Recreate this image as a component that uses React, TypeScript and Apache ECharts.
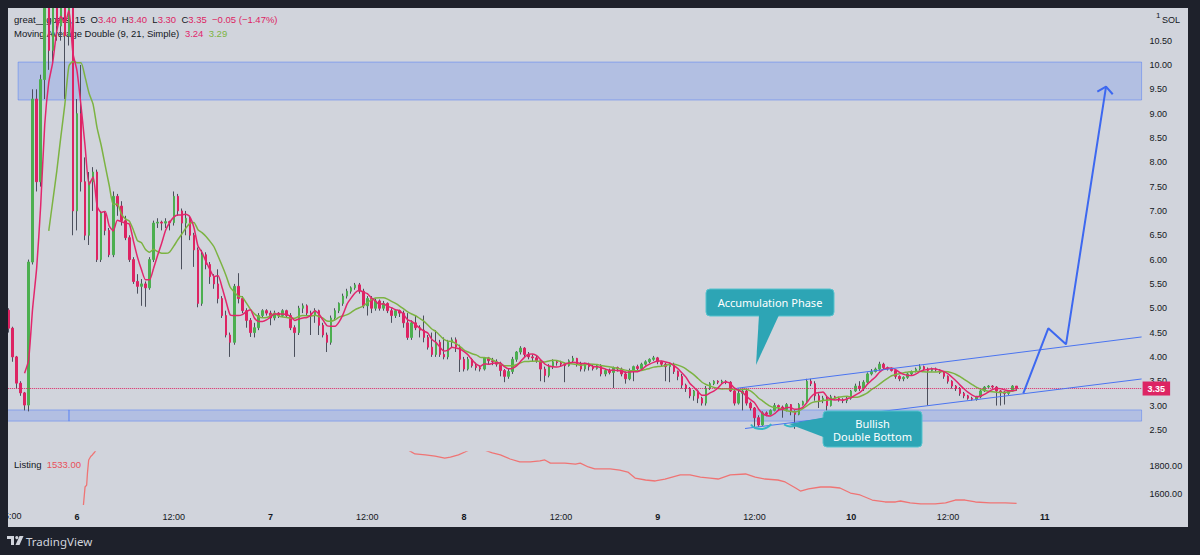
import React, { useEffect, useRef } from "react";
import * as echarts from "echarts";

// ---------- data ----------
const START_HOUR = -8.5; // hours relative to day 6 00:00
const BAR_HOURS = 0.5;
// [open, close, low, high]
const CANDLES: number[][] = [
  [4.96, 4.59, 4.5, 5.0], [4.59, 4.0, 3.9, 4.62], [4.0, 3.46, 3.35, 4.02], [3.46, 3.26, 3.2, 3.5],
  [3.26, 3.01, 2.9, 3.28], [3.01, 5.95, 2.88, 6.0], [5.95, 9.3, 5.9, 9.5], [9.3, 7.6, 7.4, 9.5],
  [7.6, 9.7, 7.5, 9.8], [9.7, 11.3, 9.3, 12.0], [11.3, 10.3, 9.9, 12.2], [10.3, 11.4, 10.0, 12.3],
  [11.4, 10.8, 10.5, 12.0], [10.8, 11.2, 10.5, 11.9], [11.2, 10.6, 9.3, 11.6], [10.6, 11.6, 10.4, 12.4],
  [11.6, 7.0, 6.5, 12.0], [7.0, 9.0, 6.6, 9.3], [9.0, 7.6, 7.4, 10.0], [7.6, 6.5, 6.4, 8.1],
  [6.5, 7.6, 6.3, 7.8], [7.6, 7.8, 7.0, 7.9], [7.8, 6.0, 5.95, 7.85], [6.0, 6.95, 5.95, 7.0],
  [6.95, 6.6, 6.5, 7.0], [6.6, 6.1, 6.05, 6.65], [6.1, 7.3, 6.05, 7.4], [7.3, 7.1, 6.9, 7.35],
  [7.1, 6.8, 6.7, 7.2], [6.8, 6.45, 6.4, 6.9], [6.45, 6.0, 5.95, 6.5], [6.0, 5.55, 5.5, 6.05],
  [5.55, 5.45, 5.3, 5.7], [5.45, 5.5, 5.05, 5.6], [5.5, 5.42, 5.03, 5.55], [5.42, 6.0, 5.38, 6.05],
  [6.0, 6.75, 5.95, 6.8], [6.75, 6.77, 6.65, 6.85], [6.77, 6.75, 6.6, 6.8], [6.75, 6.78, 6.65, 6.85],
  [6.78, 6.76, 6.6, 6.8], [6.76, 7.3, 6.7, 7.4], [7.3, 7.0, 6.9, 7.35], [7.0, 6.75, 5.8, 7.05],
  [6.75, 6.85, 6.5, 7.0], [6.85, 6.5, 6.4, 6.9], [6.5, 6.2, 5.85, 6.55], [6.2, 5.1, 5.02, 6.25],
  [5.1, 6.1, 5.05, 6.2], [6.1, 5.9, 5.8, 6.15], [5.9, 5.65, 5.5, 5.95], [5.65, 5.5, 5.4, 5.7],
  [5.5, 5.2, 5.1, 5.8], [5.2, 4.85, 4.8, 5.25], [4.85, 4.45, 4.4, 4.95], [4.45, 4.3, 4.0, 4.5],
  [4.3, 5.45, 4.25, 5.5], [5.45, 5.2, 5.1, 5.72], [5.2, 4.95, 4.9, 5.25], [4.95, 4.75, 4.6, 5.0],
  [4.75, 4.5, 4.41, 4.8], [4.5, 4.6, 4.4, 4.7], [4.6, 4.85, 4.55, 4.9], [4.85, 4.95, 4.8, 4.98],
  [4.95, 4.9, 4.85, 4.98], [4.9, 4.8, 4.65, 4.95], [4.8, 4.9, 4.75, 4.95], [4.9, 4.85, 4.8, 4.92],
  [4.85, 4.95, 4.82, 4.98], [4.95, 4.85, 4.8, 4.97], [4.85, 4.6, 4.55, 4.9], [4.6, 4.5, 4.0, 4.65],
  [4.5, 5.0, 4.45, 5.05], [5.0, 5.05, 4.9, 5.1], [5.05, 4.9, 4.85, 5.08], [4.9, 4.85, 4.45, 4.95],
  [4.85, 4.95, 4.7, 5.0], [4.95, 4.65, 4.45, 4.97], [4.65, 4.45, 4.4, 4.7], [4.45, 4.3, 4.1, 4.5],
  [4.3, 4.8, 4.25, 4.85], [4.8, 4.95, 4.75, 5.0], [4.95, 5.1, 4.9, 5.12], [5.1, 5.25, 5.05, 5.3],
  [5.25, 5.35, 5.2, 5.4], [5.35, 5.42, 5.3, 5.45], [5.42, 5.48, 5.38, 5.52], [5.48, 5.35, 5.3, 5.52],
  [5.35, 5.05, 5.0, 5.4], [5.05, 5.2, 4.85, 5.25], [5.2, 5.0, 4.9, 5.25], [5.0, 5.15, 4.95, 5.2],
  [5.15, 5.0, 4.95, 5.18], [5.0, 5.1, 4.95, 5.15], [5.1, 4.95, 4.9, 5.12], [4.95, 4.85, 4.7, 5.0],
  [4.85, 4.95, 4.8, 4.98], [4.95, 4.9, 4.82, 4.97], [4.9, 4.7, 4.6, 4.95], [4.7, 4.4, 4.35, 4.9],
  [4.4, 4.7, 4.35, 4.75], [4.7, 4.6, 4.55, 4.85], [4.6, 4.55, 4.4, 4.65], [4.55, 4.4, 4.3, 4.85],
  [4.4, 4.2, 4.15, 4.45], [4.2, 4.05, 4.0, 4.5], [4.05, 4.3, 4.0, 4.55], [4.3, 4.05, 4.0, 4.35],
  [4.05, 4.0, 3.95, 4.4], [4.0, 4.3, 3.95, 4.35], [4.3, 4.35, 4.2, 4.4], [4.35, 4.2, 4.1, 4.4],
  [4.2, 3.95, 3.69, 4.25], [3.95, 3.75, 3.7, 4.0], [3.75, 3.95, 3.72, 4.0], [3.95, 3.82, 3.78, 3.98],
  [3.82, 3.78, 3.72, 3.88], [3.78, 3.75, 3.7, 3.82], [3.75, 3.98, 3.72, 4.0], [3.98, 3.92, 3.85, 4.0],
  [3.92, 3.9, 3.83, 3.98], [3.9, 3.85, 3.8, 3.95], [3.85, 3.72, 3.6, 3.9], [3.72, 3.6, 3.48, 3.75],
  [3.6, 3.7, 3.55, 3.75], [3.7, 3.95, 3.65, 4.0], [3.95, 4.1, 3.9, 4.12], [4.1, 4.18, 4.05, 4.22],
  [4.18, 4.05, 4.0, 4.2], [4.05, 4.0, 3.95, 4.1], [4.0, 3.98, 3.9, 4.05], [3.98, 3.92, 3.88, 4.02],
  [3.92, 3.75, 3.5, 3.95], [3.75, 3.62, 3.48, 3.8], [3.62, 3.8, 3.58, 3.85], [3.8, 3.9, 3.75, 3.95],
  [3.9, 3.88, 3.82, 3.93], [3.88, 3.85, 3.8, 3.92], [3.85, 3.82, 3.48, 3.88], [3.82, 3.92, 3.8, 3.95],
  [3.92, 3.97, 3.88, 4.02], [3.97, 3.85, 3.8, 3.98], [3.85, 3.75, 3.7, 3.9], [3.75, 3.85, 3.7, 3.88],
  [3.85, 3.8, 3.72, 3.88], [3.8, 3.76, 3.72, 3.84], [3.76, 3.82, 3.74, 3.85], [3.82, 3.65, 3.6, 3.85],
  [3.65, 3.72, 3.6, 3.75], [3.72, 3.68, 3.64, 3.76], [3.68, 3.78, 3.36, 3.8], [3.78, 3.75, 3.7, 3.8],
  [3.75, 3.65, 3.6, 3.78], [3.65, 3.55, 3.45, 3.7], [3.55, 3.72, 3.52, 3.76], [3.72, 3.8, 3.5, 3.82],
  [3.8, 3.76, 3.7, 3.84], [3.76, 3.85, 3.74, 3.88], [3.85, 3.9, 3.82, 3.93], [3.9, 3.95, 3.87, 3.97],
  [3.95, 3.98, 3.92, 4.02], [3.98, 3.9, 3.85, 4.0], [3.9, 3.85, 3.8, 3.92], [3.85, 3.8, 3.5, 3.88],
  [3.8, 3.85, 3.48, 3.88], [3.85, 3.7, 3.65, 3.88], [3.7, 3.6, 3.52, 3.72], [3.6, 3.42, 3.35, 3.65],
  [3.42, 3.35, 3.28, 3.45], [3.35, 3.2, 3.15, 3.38], [3.2, 3.3, 3.1, 3.32], [3.3, 3.15, 3.05, 3.33],
  [3.15, 3.05, 3.0, 3.18], [3.05, 3.35, 3.0, 3.4], [3.35, 3.45, 3.32, 3.48], [3.45, 3.5, 3.42, 3.52],
  [3.5, 3.48, 3.44, 3.52], [3.48, 3.5, 3.45, 3.53], [3.5, 3.48, 3.44, 3.52], [3.48, 3.3, 3.28, 3.5],
  [3.3, 3.05, 3.0, 3.35], [3.05, 3.25, 3.02, 3.3], [3.25, 3.3, 2.9, 3.32], [3.3, 3.05, 3.0, 3.32],
  [3.05, 2.95, 2.9, 3.08], [2.95, 2.75, 2.56, 2.97], [2.75, 2.6, 2.56, 2.8], [2.6, 2.85, 2.58, 2.88],
  [2.85, 2.82, 2.78, 2.88], [2.82, 2.9, 2.8, 2.92], [2.9, 3.0, 2.88, 3.05], [3.0, 2.97, 2.9, 3.02],
  [2.97, 2.92, 2.75, 3.0], [2.92, 3.02, 2.88, 3.05], [3.02, 2.88, 2.8, 3.03], [2.88, 2.82, 2.52, 2.9],
  [2.82, 3.02, 2.8, 3.05], [3.02, 3.08, 3.0, 3.1], [3.08, 3.5, 3.06, 3.55], [3.5, 3.45, 3.4, 3.55],
  [3.45, 3.2, 3.1, 3.5], [3.2, 3.1, 2.95, 3.25], [3.1, 3.15, 3.05, 3.2], [3.15, 3.0, 2.9, 3.2],
  [3.0, 3.18, 2.98, 3.22], [3.18, 3.15, 3.12, 3.2], [3.15, 3.12, 3.08, 3.18], [3.12, 3.1, 3.05, 3.15],
  [3.1, 3.15, 3.05, 3.18], [3.15, 3.3, 3.12, 3.32], [3.3, 3.4, 3.28, 3.45], [3.4, 3.35, 3.3, 3.5],
  [3.35, 3.48, 3.3, 3.52], [3.48, 3.65, 3.45, 3.68], [3.65, 3.7, 3.62, 3.75], [3.7, 3.75, 3.68, 3.78],
  [3.75, 3.85, 3.72, 3.9], [3.85, 3.78, 3.75, 3.88], [3.78, 3.75, 3.72, 3.8], [3.75, 3.72, 3.7, 3.78],
  [3.72, 3.6, 3.55, 3.74], [3.6, 3.55, 3.5, 3.62], [3.55, 3.58, 3.5, 3.6], [3.58, 3.65, 3.55, 3.68],
  [3.65, 3.7, 3.62, 3.72], [3.7, 3.75, 3.68, 3.78], [3.75, 3.8, 3.72, 3.85], [3.8, 3.75, 3.72, 3.82],
  [3.75, 3.72, 3.0, 3.78], [3.72, 3.75, 3.7, 3.78], [3.75, 3.73, 3.7, 3.78], [3.73, 3.68, 3.65, 3.75],
  [3.68, 3.6, 3.55, 3.7], [3.6, 3.5, 3.45, 3.62], [3.5, 3.4, 3.35, 3.52], [3.4, 3.35, 3.3, 3.42],
  [3.35, 3.25, 3.2, 3.38], [3.25, 3.2, 3.15, 3.28], [3.2, 3.15, 3.12, 3.22], [3.15, 3.13, 3.1, 3.18],
  [3.13, 3.18, 3.1, 3.2], [3.18, 3.3, 3.15, 3.32], [3.3, 3.38, 3.28, 3.4], [3.38, 3.4, 3.35, 3.42],
  [3.4, 3.38, 3.35, 3.42], [3.38, 3.3, 3.0, 3.4], [3.3, 3.28, 3.0, 3.32], [3.28, 3.25, 3.02, 3.3],
  [3.25, 3.3, 3.22, 3.32], [3.3, 3.4, 3.28, 3.42], [3.4, 3.35, 3.3, 3.4],
];
const MA_FAST = 5; // 9 x 15m ≈ 4.5 x 30m
const MA_SLOW = 11; // 21 x 15m ≈ 10.5 x 30m
const LAST_PRICE = 3.35;

const LISTING_HOURS = [0.8, 1.0, 1.2, 1.3, 1.45, 1.7, 1.9, 2.1, 3, 6, 12, 20, 28, 36, 40, 41.2, 41.9, 43.2, 44.4, 45.6, 46.3, 47.3, 48.1, 49, 50.5, 51.5, 52.5, 53.7, 54.9, 56.2, 57.4, 58.0, 58.7, 60.5, 61.8, 62.4, 63.4, 64.2, 66.1, 67.3, 68.3, 69.2, 70.5, 71.7, 72.9, 74.8, 76.0, 77.3, 78.5, 79.5, 81.0, 82.9, 84.1, 85.3, 86.9, 87.8, 89.1, 89.7, 90.7, 92.2, 93.4, 94.6, 95.9, 97.1, 98.6, 100.2, 101.5, 102.1, 103.3, 104.6, 106.4, 107.7, 108.9, 110.1, 111.4, 113.2, 115.1, 116.5];
const LISTING_VALUES = [1521, 1650, 1664, 1750, 1843, 1868, 1879, 1893, 1960, 2050, 2150, 2200, 2150, 2080, 1980, 1910, 1886, 1879, 1871, 1857, 1864, 1879, 1900, 1925, 1915, 1893, 1879, 1850, 1829, 1829, 1836, 1843, 1821, 1821, 1814, 1821, 1793, 1779, 1779, 1771, 1757, 1714, 1700, 1693, 1707, 1736, 1736, 1721, 1714, 1707, 1736, 1743, 1721, 1707, 1700, 1686, 1643, 1621, 1636, 1650, 1650, 1643, 1607, 1593, 1557, 1543, 1543, 1550, 1536, 1529, 1529, 1536, 1557, 1557, 1543, 1536, 1536, 1533];
const LISTING_TICKS = [1600, 1800];

// drawings: [hour, price]
const CHANNEL_UPPER = [[81.8, 3.355], [132, 4.41]];
const CHANNEL_LOWER = [[82.83, 2.528], [132, 3.546]];
const FORECAST = [[117.33, 3.252], [120.43, 4.588], [122.63, 4.259], [127.59, 9.554]];
const ARROW_HEAD = [[126.51, 9.451], [127.59, 9.554], [128.42, 9.398]];
const CUP_1 = [[83.57, 2.61], [84.07, 2.54], [84.94, 2.52], [85.68, 2.56], [86.06, 2.62]];
const CUP_2 = [[87.67, 2.61], [88.41, 2.57], [89.28, 2.6]];
const ZONE_TOP = [-7.3, 10.06, 9.28];
const ZONE_BOTTOM = [-0.99, 2.91, 2.68];

const X_TICKS_START = -12;
const X_TICKS_END = 132;

// ---------- style ----------
const FONT = "'Liberation Sans', Arial, sans-serif";
const FONT2 = "'Noto Sans', 'Open Sans', sans-serif";
const GREEN = "#4caf50";
const RED = "#dd2463";
const WICK = "#4b4f5c";
const PINK = "#e2266c";
const LIME = "#7cb342";
const BLUE = "#4a74f0";
const ARROW = "#3d68f0";
const TEAL = "#2da5b5";
const TEAL_EDGE = "#55c3ce";
const LISTING_RED = "#ef7474";
const TEXT = "#131722";
const PANEL = "#d1d4dc";
const FRAME = "#1e212b";

const hourAt = (i: number) => START_HOUR + i * BAR_HOURS;

function sma(n: number) {
  const closes = CANDLES.map((c) => c[1]);
  const out: number[][] = [];
  for (let i = n - 1; i < closes.length; i++) {
    let s = 0;
    for (let j = i - n + 1; j <= i; j++) s += closes[j];
    out.push([hourAt(i), s / n]);
  }
  return out;
}

function buildOption() {
  const wickData = CANDLES.map((c, i) => [hourAt(i), c[0], c[1], c[2], c[3]]);
  const bodyData = CANDLES.map((c, i) => [hourAt(i), c[0], c[1], Math.min(c[0], c[1]), Math.max(c[0], c[1])]);
  const lineBase = { type: "line", xAxisIndex: 0, yAxisIndex: 0, showSymbol: false, symbol: "none", silent: true };
  const zoneStyle = { color: "rgba(41,98,255,0.18)", borderColor: "rgba(41,98,255,0.36)", borderWidth: 1 };

  return {
    animation: false,
    backgroundColor: PANEL,
    grid: [
      { left: -19.8, right: 58.4, top: -8, height: 462.2, outerBoundsMode: "none" },
      { left: -19.8, right: 58.4, top: 452, height: 56, outerBoundsMode: "none" },
    ],
    xAxis: [
      { type: "value", gridIndex: 0, min: X_TICKS_START, max: X_TICKS_END, interval: 12, show: false },
      {
        type: "value", gridIndex: 1, min: X_TICKS_START, max: X_TICKS_END, interval: 12,
        axisLine: { show: false }, axisTick: { show: false }, splitLine: { show: false },
        axisLabel: {
          margin: 4, fontSize: 9, color: TEXT, fontFamily: FONT, showMaxLabel: false, showMinLabel: false,
          formatter: (v: number) => {
            if (v < 0) return "";
            const hh = ((v % 24) + 24) % 24;
            if (Math.abs(hh) < 1e-6) return `{b|${6 + Math.round(v / 24)}}`;
            return "12:00";
          },
          rich: { b: { fontWeight: "bold", fontSize: 9, color: TEXT, fontFamily: FONT } },
        },
      },
    ],
    yAxis: [
      {
        type: "value", gridIndex: 0, position: "right", min: 2, max: 11.5, interval: 0.5,
        axisLine: { show: false }, axisTick: { show: false }, splitLine: { show: false },
        axisLabel: {
          margin: 8, fontSize: 9, color: TEXT, fontFamily: FONT,
          formatter: (v: number) => (v > 10.75 || v < 2.25 ? "" : v.toFixed(2)),
        },
      },
      {
        type: "value", gridIndex: 1, position: "right", min: 1500, max: 1900, interval: 100,
        axisLine: { show: false }, axisTick: { show: false }, splitLine: { show: false },
        axisLabel: {
          margin: 8, fontSize: 9, color: TEXT, fontFamily: FONT, showMinLabel: false, showMaxLabel: false,
          formatter: (v: number) => (LISTING_TICKS.indexOf(Math.round(v)) >= 0 ? v.toFixed(2) : ""),
        },
      },
    ],
    series: [
      {
        type: "candlestick", name: "wicks", xAxisIndex: 0, yAxisIndex: 0, barWidth: 1, z: 2, silent: true,
        encode: { x: 0, y: [1, 2, 3, 4] },
        itemStyle: { color: WICK, color0: WICK, borderColor: WICK, borderColor0: WICK, borderColorDoji: WICK, borderWidth: 1 },
        data: wickData,
      },
      {
        type: "candlestick", name: "bodies", xAxisIndex: 0, yAxisIndex: 0, barWidth: 2, z: 3, silent: true,
        encode: { x: 0, y: [1, 2, 3, 4] },
        itemStyle: { color: GREEN, color0: RED, borderColor: GREEN, borderColor0: RED, borderColorDoji: GREEN, borderWidth: 1 },
        data: bodyData,
        markLine: {
          silent: true, symbol: ["none", "none"], animation: false,
          data: [{ yAxis: LAST_PRICE }],
          lineStyle: { color: RED, type: "dotted", width: 1 },
          label: {
            show: true, position: "end", distance: 1, formatter: LAST_PRICE.toFixed(2),
            color: "#fff", backgroundColor: RED, padding: [3, 5, 2, 5], fontSize: 9, fontWeight: "bold", fontFamily: FONT,
          },
          emphasis: { disabled: true },
        },
      },
      { ...lineBase, name: "MA9", data: sma(MA_FAST), z: 5, smooth: 0.2, lineStyle: { color: PINK, width: 1.5 } },
      { ...lineBase, name: "MA21", data: sma(MA_SLOW), z: 4, smooth: 0.2, lineStyle: { color: LIME, width: 1.5 } },
      {
        ...lineBase, name: "upper", data: CHANNEL_UPPER, z: 6, lineStyle: { color: BLUE, width: 1 },
        markArea: {
          silent: true, itemStyle: zoneStyle,
          data: [
            [{ xAxis: ZONE_TOP[0], yAxis: ZONE_TOP[1] }, { xAxis: X_TICKS_END, yAxis: ZONE_TOP[2] }],
            [{ xAxis: X_TICKS_START, yAxis: ZONE_BOTTOM[1] }, { xAxis: ZONE_BOTTOM[0], yAxis: ZONE_BOTTOM[2] }],
            [{ xAxis: ZONE_BOTTOM[0], yAxis: ZONE_BOTTOM[1] }, { xAxis: X_TICKS_END, yAxis: ZONE_BOTTOM[2] }],
          ],
        },
      },
      { ...lineBase, name: "lower", data: CHANNEL_LOWER, z: 6, lineStyle: { color: BLUE, width: 1 } },
      { ...lineBase, name: "forecast", data: FORECAST, z: 7, lineStyle: { color: ARROW, width: 2 } },
      { ...lineBase, name: "arrow", data: ARROW_HEAD, z: 7, lineStyle: { color: ARROW, width: 2 } },
      { ...lineBase, name: "cup1", data: CUP_1, z: 7, smooth: true, lineStyle: { color: "#33b6c6", width: 2 } },
      { ...lineBase, name: "cup2", data: CUP_2, z: 7, smooth: true, lineStyle: { color: "#33b6c6", width: 2 } },
      {
        type: "line", name: "Listing", xAxisIndex: 1, yAxisIndex: 1, showSymbol: false, symbol: "none", silent: true,
        data: LISTING_HOURS.map((h, i) => [h, LISTING_VALUES[i]]),
        lineStyle: { color: LISTING_RED, width: 1.3 }, z: 3,
      },
    ],
    graphic: [
      // legends (under candles)
      {
        type: "text", z: 1, silent: true,
        style: {
          x: 14, y: 19, verticalAlign: "middle",
          text: "{d|great__goats, 15  O}{r|3.40}{d|  H}{r|3.40}{d|  L}{r|3.30}{d|  C}{r|3.35}{r|  −0.05 (−1.47%)}",
          rich: {
            d: { fontSize: 9.5, fontFamily: FONT, fill: TEXT, color: TEXT },
            r: { fontSize: 9.5, fontFamily: FONT, fill: RED, color: RED },
          },
        },
      },
      {
        type: "text", z: 1, silent: true,
        style: {
          x: 14, y: 33, verticalAlign: "middle",
          text: "{d|Moving Average Double (9, 21, Simple)  }{p|3.24}{d|  }{g|3.29}",
          rich: {
            d: { fontSize: 9.5, fontFamily: FONT, fill: TEXT, color: TEXT },
            p: { fontSize: 9.5, fontFamily: FONT, fill: PINK, color: PINK },
            g: { fontSize: 9.5, fontFamily: FONT, fill: LIME, color: LIME },
          },
        },
      },
      {
        type: "text", z: 1, silent: true,
        style: {
          x: 14, y: 464, verticalAlign: "middle",
          text: "{d|Listing  }{r|1533.00}",
          rich: {
            d: { fontSize: 9.5, fontFamily: FONT, fill: TEXT, color: TEXT },
            r: { fontSize: 9.5, fontFamily: FONT, fill: "#e8505a", color: "#e8505a" },
          },
        },
      },
      { type: "text", z: 1, silent: true, style: { x: 1156, y: 15, text: "1", fontSize: 8, fontFamily: FONT, fill: TEXT, verticalAlign: "middle" } },
      { type: "text", z: 1, silent: true, style: { x: 1162, y: 20, text: "SOL", fontSize: 9, fontFamily: FONT, fill: TEXT, verticalAlign: "middle" } },
      { type: "text", z: 1, silent: true, style: { x: 4, y: 516, text: "5:00", fontSize: 9, fontFamily: FONT, fill: TEXT, align: "left", verticalAlign: "middle" } },
      // callout: Accumulation Phase
      { type: "rect", z: 50, silent: true, shape: { x: 706, y: 289, width: 128, height: 27, r: 4 }, style: { fill: TEAL, stroke: TEAL_EDGE, lineWidth: 1 } },
      { type: "polygon", z: 51, silent: true, shape: { points: [[759, 315], [779, 315], [756, 365]] }, style: { fill: TEAL } },
      {
        type: "text", z: 52, silent: true,
        style: { x: 770, y: 302.5, text: "Accumulation Phase", fontSize: 11, fontFamily: FONT2, fill: "#ffffff", align: "center", verticalAlign: "middle" },
      },
      // callout: Bullish Double Bottom
      { type: "rect", z: 50, silent: true, shape: { x: 823, y: 411, width: 99, height: 36, r: 4 }, style: { fill: TEAL, stroke: TEAL_EDGE, lineWidth: 1 } },
      { type: "polygon", z: 51, silent: true, shape: { points: [[789, 424], [826, 417], [826, 438]] }, style: { fill: TEAL } },
      {
        type: "text", z: 52, silent: true,
        style: { x: 872.5, y: 429.5, text: "Bullish\nDouble Bottom", lineHeight: 13, fontSize: 11, fontFamily: FONT2, fill: "#ffffff", align: "center", verticalAlign: "middle" },
      },
      // dark frame around the panel
      { type: "rect", z: 100, silent: true, shape: { x: 0, y: 0, width: 1200, height: 8 }, style: { fill: FRAME } },
      { type: "rect", z: 100, silent: true, shape: { x: 0, y: 0, width: 8, height: 555 }, style: { fill: FRAME } },
      { type: "rect", z: 100, silent: true, shape: { x: 1188, y: 0, width: 12, height: 555 }, style: { fill: FRAME } },
      { type: "rect", z: 100, silent: true, shape: { x: 0, y: 527, width: 1200, height: 28 }, style: { fill: FRAME } },
      // TradingView logo
      { type: "rect", z: 101, silent: true, shape: { x: 7, y: 536, width: 7, height: 3 }, style: { fill: PANEL } },
      { type: "rect", z: 101, silent: true, shape: { x: 11, y: 536, width: 3, height: 9 }, style: { fill: PANEL } },
      { type: "circle", z: 101, silent: true, shape: { cx: 16.8, cy: 537.6, r: 1.6 }, style: { fill: PANEL } },
      { type: "polygon", z: 101, silent: true, shape: { points: [[19.5, 536], [23.5, 536], [19.5, 545], [15.5, 545]] }, style: { fill: PANEL } },
      {
        type: "text", z: 101, silent: true,
        style: { x: 26, y: 541, text: "TradingView", fontSize: 11.5, fontFamily: FONT2, fill: PANEL, verticalAlign: "middle" },
      },
    ],
  };
}

export default function App() {
  const ref = useRef<HTMLDivElement>(null);
  useEffect(() => {
    if (!ref.current) return;
    const chart = echarts.init(ref.current, null, { renderer: "svg" });
    chart.setOption(buildOption() as any);
    return () => chart.dispose();
  }, []);
  return <div ref={ref} style={{ position: "fixed", left: 0, top: 0, width: 1200, height: 555 }} />;
}
